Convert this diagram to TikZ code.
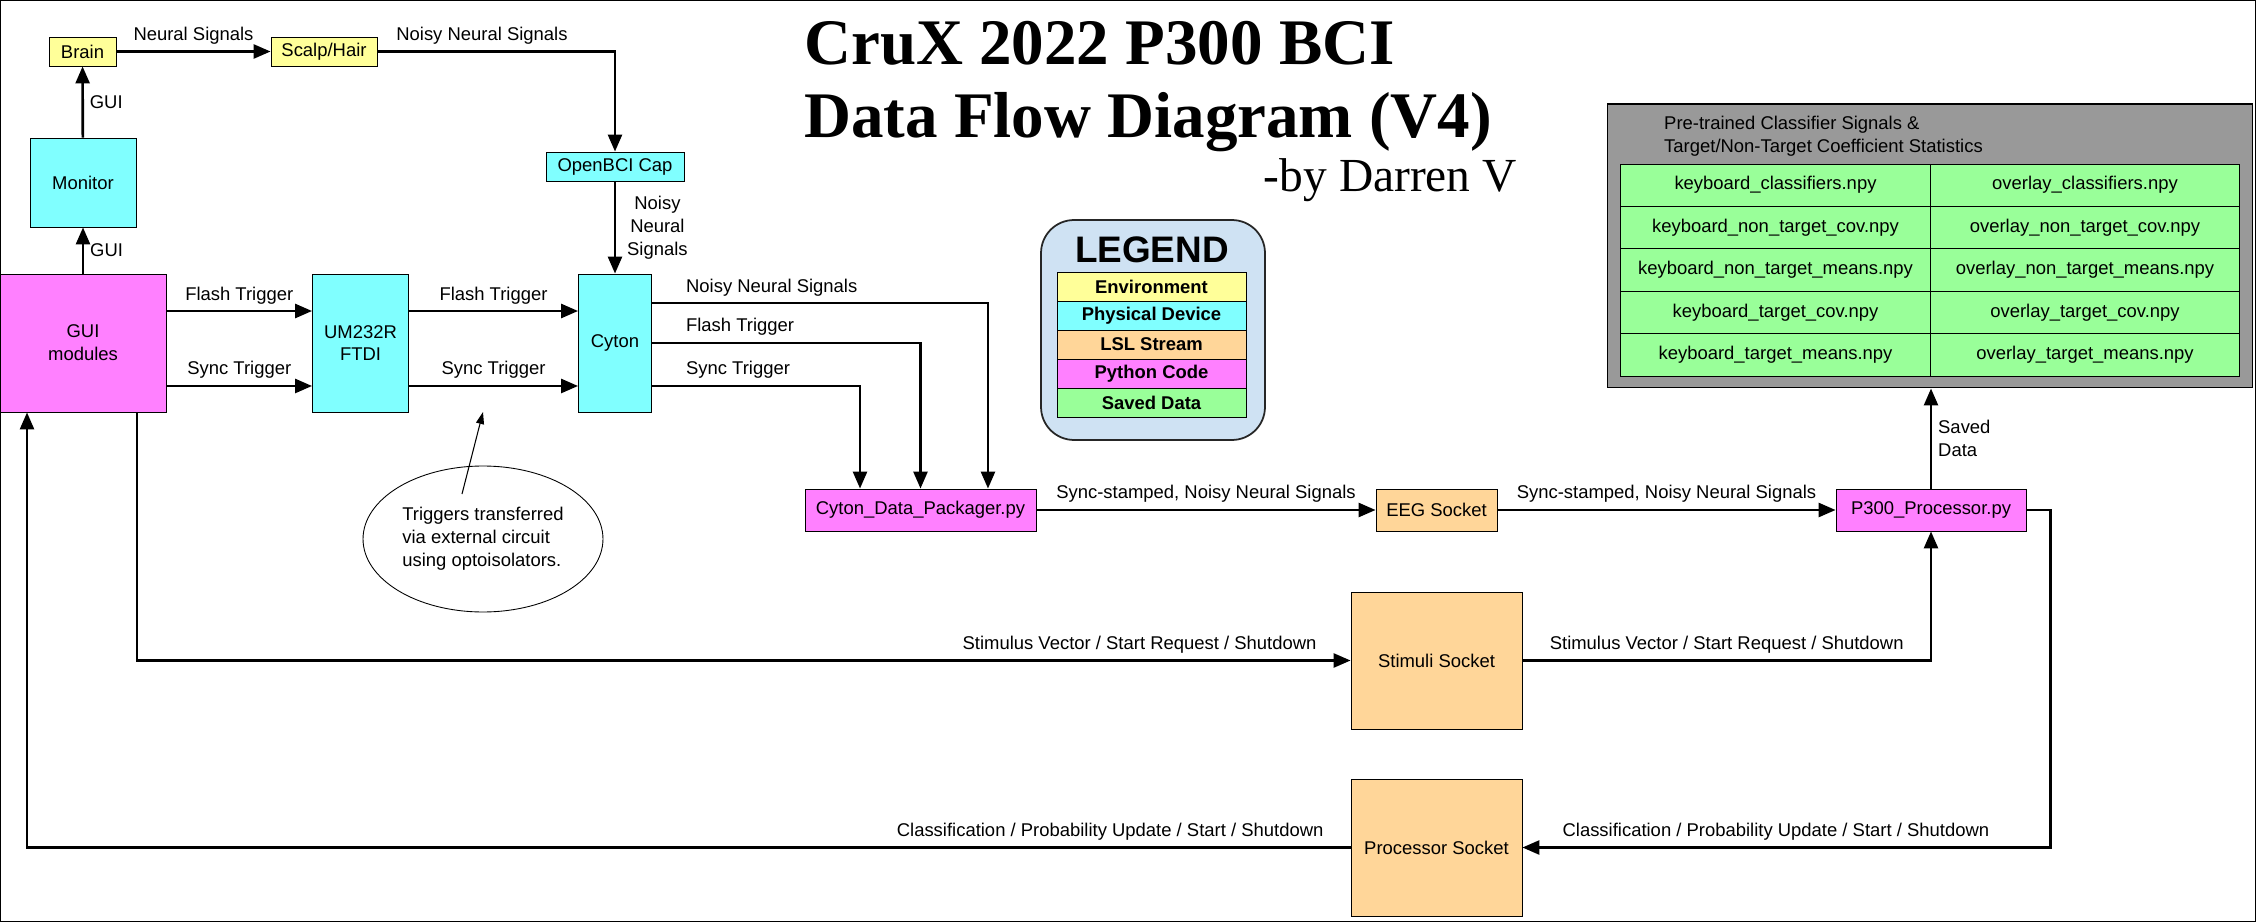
\documentclass[tikz,border=0pt]{standalone}
\usepackage{fontspec}
\setmainfont{Liberation Sans}
\newfontfamily\titlefont{Liberation Serif}
\usepackage{color}
\usepackage{tikz}
\usetikzlibrary{arrows.meta,shapes.geometric}

\definecolor{envyellow}{HTML}{FFFF99}
\definecolor{devcyan}{HTML}{80FFFF}
\definecolor{lslorange}{HTML}{FFD699}
\definecolor{pymagenta}{HTML}{FF80FF}
\definecolor{savedgreen}{HTML}{99FF99}
\definecolor{legendblue}{HTML}{CFE2F3}
\definecolor{storegray}{HTML}{999999}

\begin{document}
\begin{tikzpicture}[x=0.02cm, y=-0.02cm,
	lbl/.style={font=\fontsize{10.5}{13}\selectfont},
	box/.style={draw=black, line width=0.5pt, inner sep=0pt, align=center, lbl},
	envbox/.style={box, fill=envyellow},
	devbox/.style={box, fill=devcyan},
	lslbox/.style={box, fill=lslorange},
	pybox/.style={box, fill=pymagenta},
	savebox/.style={box, fill=savedgreen},
	legendrow/.style={minimum width=3.78cm, minimum height=0.58cm, font=\fontsize{10.5}{13}\selectfont\bfseries},
	cell/.style={savebox, minimum width=6.19cm, minimum height=0.848cm},
	flow/.style={-{Triangle[length=0.34cm,width=0.28cm]}, line width=1.5pt},
	pointer/.style={-{Triangle[length=0.24cm,width=0.16cm]}, line width=0.6pt},
	outlbl/.style={lbl, pos=0, anchor=south west, xshift=0.54cm}]
	
	\useasboundingbox (0, 0) rectangle (2256, 922);
	\draw[line width=0.06cm] (0, 0) rectangle (2256, 922);
	
	\node[anchor=base west, font=\titlefont\bfseries\fontsize{37}{44}\selectfont] (title1) at (798, 65) {CruX 2022 P300 BCI};
	\node[anchor=base west, font=\titlefont\bfseries\fontsize{37}{44}\selectfont] (title2) at (798, 138) {Data Flow Diagram (V4)};
	\node[anchor=base east, font=\titlefont\fontsize{27}{32}\selectfont] (byline) at (1523, 192) {-by Darren V};
	
	\node[envbox, minimum width=1.34cm, minimum height=0.58cm] (brain) at (82.5, 51.5) {Brain};
	\node[envbox, minimum width=2.12cm, minimum height=0.58cm] (scalp) at (324, 51.5) {Scalp/Hair};
	\node[devbox, minimum width=2.76cm, minimum height=0.58cm] (openbci) at (615, 166.5) {OpenBCI Cap};
	\node[devbox, minimum width=2.12cm, minimum height=1.78cm] (monitor) at (83, 182.5) {Monitor};
	\node[pybox, minimum width=3.32cm, minimum height=2.76cm] (gui) at (83, 343) {GUI\\modules};
	\node[devbox, minimum width=1.92cm, minimum height=2.76cm] (ftdi) at (360.5, 343) {UM232R\\FTDI};
	\node[devbox, minimum width=1.46cm, minimum height=2.76cm] (cyton) at (615, 343) {Cyton};
	
	\node[pybox, minimum width=4.62cm, minimum height=0.84cm] (packager) at (920.5, 510) {Cyton\_Data\_Packager.py};
	\node[lslbox, minimum width=2.42cm, minimum height=0.84cm] (eeg) at (1436.5, 510) {EEG Socket};
	\node[pybox, minimum width=3.8cm, minimum height=0.84cm] (processor) at (1931, 510) {P300\_Processor.py};
	\node[lslbox, minimum width=3.42cm, minimum height=2.74cm] (stimuli) at (1436.5, 660.5) {Stimuli Socket};
	\node[lslbox, minimum width=3.42cm, minimum height=2.74cm] (procsocket) at (1436.5, 847.5) {Processor Socket};
	
	\node[draw=black, line width=0.5pt, ellipse, minimum width=4.8cm, minimum height=2.92cm, inner sep=0pt, align=left, lbl] (note) at (483, 539) {Triggers transferred\\via external circuit\\using optoisolators.};
	\coordinate (notetip) at (483, 412);
	
	\node[draw=black!85, line width=1pt, fill=legendblue, rounded corners=0.66cm, minimum width=4.48cm, minimum height=4.4cm] (legend) at (1153, 330) {};
	\node[font=\fontsize{21}{25}\selectfont\bfseries] (legendtitle) at (1152, 250) {LEGEND};
	\node[envbox, legendrow] (legenv) at (1151.5, 286.5) {Environment};
	\node[devbox, legendrow] (legdev) at (1151.5, 315.5) {Physical Device};
	\node[lslbox, legendrow] (leglsl) at (1151.5, 344.5) {LSL Stream};
	\node[pybox, legendrow] (legpy) at (1151.5, 373.5) {Python Code};
	\node[savebox, legendrow] (legsave) at (1151.5, 402.5) {Saved Data};
	
	\node[draw=black, line width=0.6pt, fill=storegray, minimum width=12.92cm, minimum height=5.68cm] (store) at (1930, 246) {};
	\node[anchor=west, align=left, lbl] (storetitle) at (1658, 136) {Pre-trained Classifier Signals \&\\Target/Non-Target Coefficient Statistics};
	\node[cell] (kbclass) at (1775.5, 185.2) {keyboard\_classifiers.npy};
	\node[cell] (ovclass) at (2085, 185.2) {overlay\_classifiers.npy};
	\node[cell] (kbntcov) at (1775.5, 227.6) {keyboard\_non\_target\_cov.npy};
	\node[cell] (ovntcov) at (2085, 227.6) {overlay\_non\_target\_cov.npy};
	\node[cell] (kbntmean) at (1775.5, 270) {keyboard\_non\_target\_means.npy};
	\node[cell] (ovntmean) at (2085, 270) {overlay\_non\_target\_means.npy};
	\node[cell] (kbtcov) at (1775.5, 312.4) {keyboard\_target\_cov.npy};
	\node[cell] (ovtcov) at (2085, 312.4) {overlay\_target\_cov.npy};
	\node[cell] (kbtmean) at (1775.5, 354.8) {keyboard\_target\_means.npy};
	\node[cell] (ovtmean) at (2085, 354.8) {overlay\_target\_means.npy};
	
	\draw[flow] (brain) -- (scalp) node[lbl, midway, above] {Neural Signals};
	\draw[flow] (scalp) -| (openbci) node[lbl, pos=0.22, above] {Noisy Neural Signals};
	\draw[flow] (openbci) -- (cyton) node[lbl, midway, right, align=center, xshift=0.1cm] {Noisy\\Neural\\Signals};
	\draw[flow] (monitor) -- (brain) node[lbl, midway, right] {GUI};
	\draw[flow] (gui) -- (monitor) node[lbl, midway, right] {GUI};
	
	\draw[flow] ([yshift=0.64cm]gui.east) -- ([yshift=0.64cm]ftdi.west) node[lbl, midway, above] {Flash Trigger};
	\draw[flow] ([yshift=-0.86cm]gui.east) -- ([yshift=-0.86cm]ftdi.west) node[lbl, midway, above] {Sync Trigger};
	\draw[flow] ([yshift=0.64cm]ftdi.east) -- ([yshift=0.64cm]cyton.west) node[lbl, midway, above] {Flash Trigger};
	\draw[flow] ([yshift=-0.86cm]ftdi.east) -- ([yshift=-0.86cm]cyton.west) node[lbl, midway, above] {Sync Trigger};
	
	\draw[flow] ([yshift=0.8cm]cyton.east) -| ([xshift=1.35cm]packager.north) node[outlbl] {Noisy Neural Signals};
	\draw[flow] (cyton) -| (packager) node[outlbl] {Flash Trigger};
	\draw[flow] ([yshift=-0.86cm]cyton.east) -| ([xshift=-1.21cm]packager.north) node[outlbl] {Sync Trigger};
	
	\draw[pointer] ([xshift=-0.42cm, yshift=0.9cm]note.center) -- (notetip);
	
	\draw[flow] (packager) -- (eeg) node[lbl, midway, above] {Sync-stamped, Noisy Neural Signals};
	\draw[flow] (eeg) -- (processor) node[lbl, midway, above] {Sync-stamped, Noisy Neural Signals};
	\draw[flow] (processor) -- (processor |- store.south) node[lbl, midway, right, align=left] {Saved\\Data};
	
	\draw[flow] ([xshift=1.08cm]gui.south) |- (stimuli) node[lbl, pos=1, anchor=south east, xshift=-0.54cm] {Stimulus Vector / Start Request / Shutdown};
	\draw[flow] (stimuli) -| (processor) node[lbl, pos=0.25, above] {Stimulus Vector / Start Request / Shutdown};
	\draw[flow] (processor.east) -- ++(24, 0) |- (procsocket) node[lbl, pos=0.76, above] {Classification / Probability Update / Start / Shutdown};
	\draw[flow] (procsocket) -| ([xshift=-1.12cm]gui.south) node[lbl, pos=0, anchor=south east, xshift=-0.4cm] {Classification / Probability Update / Start / Shutdown};
	
\end{tikzpicture}
\end{document}
